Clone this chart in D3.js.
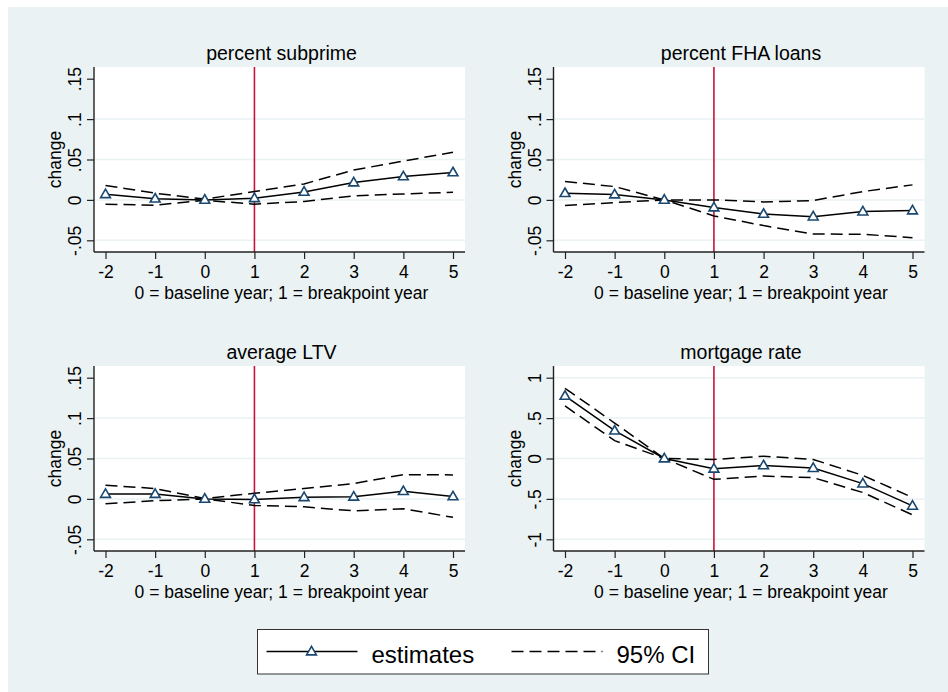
<!DOCTYPE html>
<html>
<head>
<meta charset="utf-8">
<script src="https://cdn.jsdelivr.net/npm/d3@7"></script>
<style>
  body { margin: 0; background: #fff; }
  svg { display: block; font-family: "Liberation Sans", Arial, sans-serif; }
</style>
</head>
<body>
<svg id="chart" width="948" height="692"></svg>
<script>
// event-time years
const years = [-2, -1, 0, 1, 2, 3, 4, 5];

// percent subprime
const subprimeEst = [0.007, 0.0015, 0, 0.002, 0.0099, 0.0215, 0.029, 0.034];
const subprimeHi = [0.0178, 0.0083, 0.001, 0.0103, 0.0198, 0.037, 0.048, 0.059];
const subprimeLo = [-0.0053, -0.0066, -0.0005, -0.0053, -0.002, 0.005, 0.0074, 0.0095];

// percent FHA loans
const fhaEst = [0.0083, 0.0066, 0, -0.0095, -0.0174, -0.0207, -0.0145, -0.0132];
const fhaHi = [0.0227, 0.0165, 0, 0, -0.0025, -0.0008, 0.0103, 0.0186];
const fhaLo = [-0.007, -0.0033, 0, -0.0198, -0.0318, -0.0422, -0.0426, -0.0467];

// average LTV
const ltvEst = [0.006, 0.006, 0, -0.0006, 0.002, 0.0026, 0.0095, 0.003];
const ltvHi = [0.017, 0.0128, 0.0005, 0.0069, 0.0128, 0.019, 0.030, 0.0297];
const ltvLo = [-0.006, -0.0023, 0, -0.0081, -0.0098, -0.0148, -0.0123, -0.0228];

// mortgage rate
const rateEst = [0.774, 0.344, 0, -0.127, -0.086, -0.119, -0.311, -0.586];
const rateHi = [0.869, 0.439, 0, -0.012, 0.028, -0.012, -0.209, -0.483];
const rateLo = [0.651, 0.221, 0, -0.258, -0.217, -0.237, -0.421, -0.697];

const titles = ["percent subprime", "percent FHA loans", "average LTV", "mortgage rate"];
const yearLabels = ["-2", "-1", "0", "1", "2", "3", "4", "5"];
const shareTicks = [-0.05, 0, 0.05, 0.1, 0.15];
const shareTickLabels = ["-.05", "0", ".05", ".1", ".15"];
const shareGrid = [-0.05, 0, 0.05, 0.1];
const rateTicks = [-1, -0.5, 0, 0.5, 1];
const rateTickLabels = ["-1", "-.5", "0", ".5", "1"];
const rateGrid = [-1, -0.5, 0, 0.5, 1];
const breakYear = 1;
const xTitle = "0 = baseline year; 1 = breakpoint year";
const yTitle = "change";
const legendLabels = ["estimates", "95% CI"];

const navy = "#1a476f";
const red = "#c8143c";
const bg = "#eaf2f3";

const svg = d3.select("#chart");
svg.append("rect").attr("x", 8).attr("y", 7).attr("width", 940).attr("height", 685).attr("fill", bg);

const panels = [
  { title: titles[0], est: subprimeEst, hi: subprimeHi, lo: subprimeLo, ticks: shareTicks, labels: shareTickLabels, grid: shareGrid, left: 94, top: 67 },
  { title: titles[1], est: fhaEst, hi: fhaHi, lo: fhaLo, ticks: shareTicks, labels: shareTickLabels, grid: shareGrid, left: 553.5, top: 67 },
  { title: titles[2], est: ltvEst, hi: ltvHi, lo: ltvLo, ticks: shareTicks, labels: shareTickLabels, grid: shareGrid, left: 94, top: 366 },
  { title: titles[3], est: rateEst, hi: rateHi, lo: rateLo, ticks: rateTicks, labels: rateTickLabels, grid: rateGrid, left: 553.5, top: 366 }
];

const pw = 371, ph = 185, pad = 11.7;
const tri = d3.symbol().type(d3.symbolTriangle).size(42);

panels.forEach(p => {
  const g = svg.append("g").attr("transform", `translate(${p.left},${p.top})`);
  const x = d3.scaleLinear().domain([-2, 5]).range([11.5, pw - 12]);
  const y = d3.scaleLinear().domain([p.ticks[0], p.ticks[p.ticks.length - 1]]).range([ph - pad, pad]);

  g.append("rect").attr("width", pw).attr("height", ph).attr("fill", "#fff");

  g.selectAll(".grid").data(p.grid).enter().append("line")
    .attr("x1", 0).attr("x2", pw)
    .attr("y1", d => y(d)).attr("y2", d => y(d))
    .attr("stroke", bg).attr("stroke-width", 1.5);

  g.append("line")
    .attr("x1", x(breakYear)).attr("x2", x(breakYear))
    .attr("y1", 0).attr("y2", ph)
    .attr("stroke", red).attr("stroke-width", 1.6);

  const line = arr => d3.line().x((d, i) => x(years[i])).y(d => y(d))(arr);

  [p.hi, p.lo].forEach(arr => {
    g.append("path").attr("d", line(arr))
      .attr("fill", "none").attr("stroke", "#000")
      .attr("stroke-width", 1.5).attr("stroke-dasharray", "12,6");
  });

  g.append("path").attr("d", line(p.est))
    .attr("fill", "none").attr("stroke", "#000").attr("stroke-width", 1.5);

  g.selectAll(".mk").data(p.est).enter().append("path")
    .attr("d", tri)
    .attr("transform", (d, i) => `translate(${x(years[i])},${y(d) + 0.5})`)
    .attr("fill", "#fff").attr("stroke", navy).attr("stroke-width", 1.6);

  // axes
  const yAxis = d3.axisLeft(y).tickValues(p.ticks).tickSize(7).tickPadding(6)
    .tickFormat((d, i) => p.labels[i]);
  const ya = g.append("g").call(yAxis);
  ya.select(".domain").attr("d", `M0,0V${ph}`).attr("stroke", "#222").attr("stroke-width", 1.4);
  ya.selectAll(".tick line").attr("stroke", "#222").attr("stroke-width", 1.2);
  ya.selectAll(".tick text")
    .attr("x", null).attr("dy", null)
    .attr("transform", "translate(-13,0) rotate(-90)")
    .attr("text-anchor", "middle")
    .attr("font-size", 17.5).attr("fill", "#000")
    .attr("font-family", "Liberation Sans, Arial, sans-serif");

  const xAxis = d3.axisBottom(x).tickValues(years).tickSize(7).tickPadding(8)
    .tickFormat((d, i) => yearLabels[i]);
  const xa = g.append("g").attr("transform", `translate(0,${ph})`).call(xAxis);
  xa.select(".domain").attr("d", `M0,0H${pw}`).attr("stroke", "#222").attr("stroke-width", 1.4);
  xa.selectAll(".tick line").attr("stroke", "#222").attr("stroke-width", 1.2);
  xa.selectAll(".tick text")
    .attr("dy", null).attr("y", 26)
    .attr("font-size", 17.5).attr("fill", "#000")
    .attr("font-family", "Liberation Sans, Arial, sans-serif");

  g.append("text").attr("x", pw / 2 + 2).attr("y", -7)
    .attr("text-anchor", "middle").attr("font-size", 19.5).text(p.title);
  g.append("text").attr("x", pw / 2 + 2).attr("y", ph + 46.5)
    .attr("text-anchor", "middle").attr("font-size", 17.5).text(xTitle);
  g.append("text").attr("transform", `translate(-33,${ph / 2}) rotate(-90)`)
    .attr("text-anchor", "middle").attr("font-size", 17.5).text(yTitle);
});

// legend
const lg = svg.append("g").attr("transform", "translate(257.5,629.5)");
lg.append("rect").attr("width", 451).attr("height", 44.5)
  .attr("fill", "#fff").attr("stroke", "#333").attr("stroke-width", 1);
lg.append("line").attr("x1", 9).attr("x2", 100).attr("y1", 22).attr("y2", 22)
  .attr("stroke", "#000").attr("stroke-width", 1.5);
lg.append("path").attr("d", tri).attr("transform", "translate(54,22.5)")
  .attr("fill", "#fff").attr("stroke", navy).attr("stroke-width", 1.6);
lg.append("text").attr("x", 114).attr("y", 33.5).attr("font-size", 24).text(legendLabels[0]);
lg.append("line").attr("x1", 254).attr("x2", 345).attr("y1", 22).attr("y2", 22)
  .attr("stroke", "#000").attr("stroke-width", 1.5).attr("stroke-dasharray", "12,6");
lg.append("text").attr("x", 359).attr("y", 33.5).attr("font-size", 24).text(legendLabels[1]);
</script>
</body>
</html>
